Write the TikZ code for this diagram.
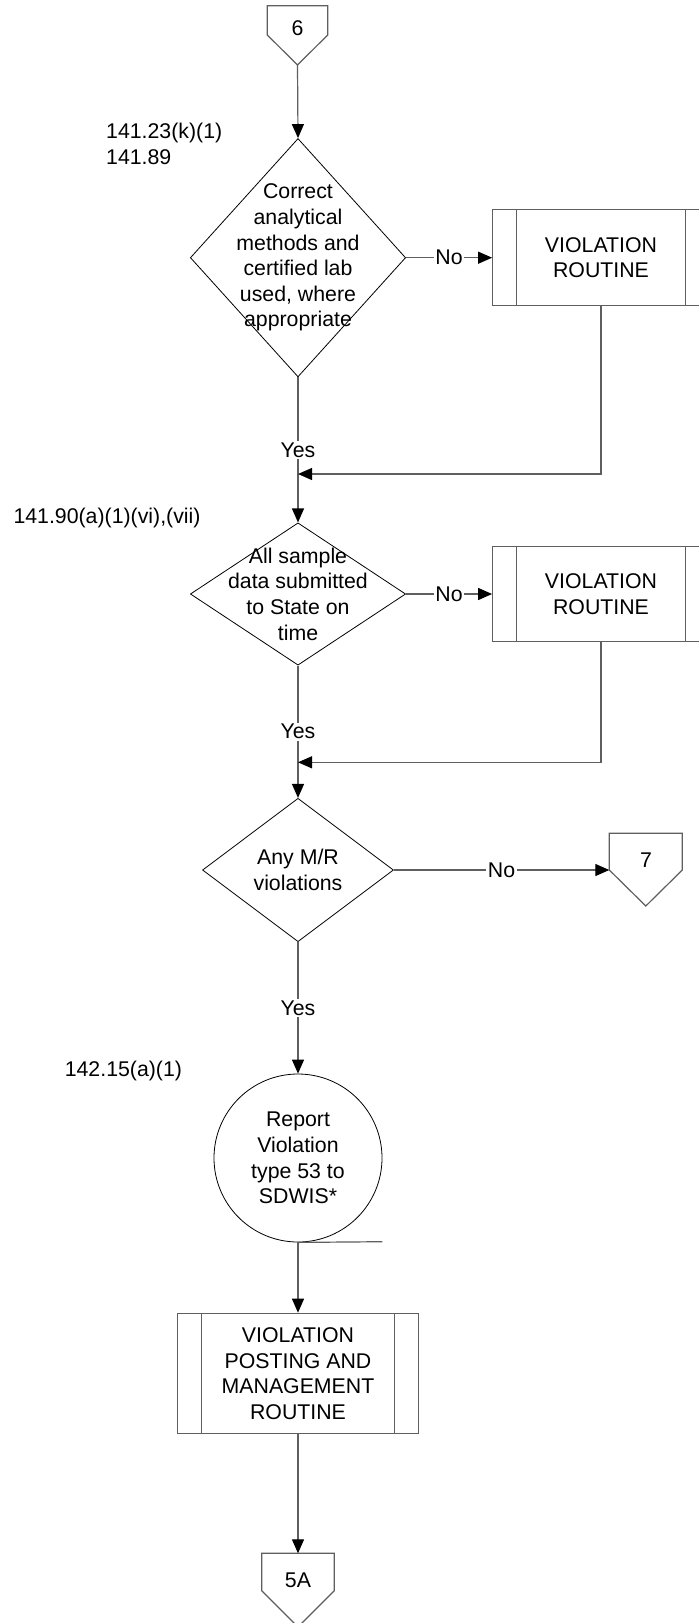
\documentclass[tikz,border=0pt]{standalone}
\usepackage{fontspec}
\setmainfont{Liberation Sans}
\usetikzlibrary{shapes.geometric, arrows.meta, positioning, calc}

\definecolor{linegray}{RGB}{95,95,95}

\tikzset{
  flowline/.style={draw=linegray, line width=1.2pt},
  flowarrow/.style={flowline, -{Triangle[length=14pt, width=12pt, color=black]}},
  decision/.style={diamond, draw=black, line width=0.8pt, inner sep=0pt},
  subproc/.style={rectangle, draw=linegray, line width=1.2pt, align=center, inner sep=0pt,
    path picture={
      \draw[linegray, line width=1.2pt]
        ([xshift=24pt]path picture bounding box.north west) -- ([xshift=24pt]path picture bounding box.south west)
        ([xshift=-24pt]path picture bounding box.north east) -- ([xshift=-24pt]path picture bounding box.south east);
    }},
  report/.style={circle, draw=black, line width=0.8pt, minimum size=168pt, inner sep=0pt, align=center},
  lbl/.style={fill=white, inner sep=1.5pt},
  ref/.style={anchor=west, inner sep=0pt, align=left}
}

\begin{document}
\begin{tikzpicture}[x=1pt, y=-1pt, font=\fontsize{21.3}{25.6}\selectfont]
  \useasboundingbox[fill=white] (0,0) rectangle (699,1623);

  % Off-page connector 6
  \draw[flowline] (267.3,5.7) -- (327.7,5.7) -- (327.7,35) -- (297.5,65) -- (267.3,35) -- cycle;
  \node (off6) at (297.5,28) {6};
  \coordinate (off6tip) at (297.5,65);

  % Lab check
  \node[ref] (ref1) at (106,143.9) {141.23(k)(1)\\141.89};
  \node[decision, minimum width=215.3pt, minimum height=238.4pt] (dec1) at (298,257.7) {};
  \node[align=center] (dec1txt) at (dec1) {Correct\\analytical\\methods and\\certified lab\\used, where\\appropriate};
  \node[subproc, minimum width=216.6pt, minimum height=95.7pt] (vr1) at (601,257.7) {VIOLATION\\ROUTINE};
  \coordinate (join1) at (298,474);

  % Submission check
  \node[ref] (ref2) at (13.3,518) {141.90(a)(1)(vi),(vii)};
  \node[decision, minimum width=215.3pt, minimum height=142.3pt] (dec2) at (298,594) {};
  \node[align=center] (dec2txt) at (dec2) {All sample\\data submitted\\to State on\\time};
  \node[subproc, minimum width=216.6pt, minimum height=95.7pt] (vr2) at (601,594) {VIOLATION\\ROUTINE};
  \coordinate (join2) at (298,762.3);

  % M/R check
  \node[decision, minimum width=191pt, minimum height=143.4pt] (dec3) at (298,870) {};
  \node[align=center] (dec3txt) at (dec3) {Any M/R\\violations};

  % Off-page connector 7
  \draw[flowline] (609.3,833.3) -- (682.3,833.3) -- (682.3,870) -- (645.8,906) -- (609.3,870) -- cycle;
  \node (off7) at (646,860) {7};
  \coordinate (off7in) at (609.3,870);

  % Report and posting
  \node[ref] (ref3) at (64.6,1070.7) {142.15(a)(1)};
  \node[report] (rpt) at (298,1158) {Report\\Violation\\type 53 to\\SDWIS*};
  \coordinate (rpttick) at (382.3,1241.7);
  \node[subproc, minimum width=240.3pt, minimum height=120.4pt] (vpm) at (298,1373.5) {VIOLATION\\POSTING AND\\MANAGEMENT\\ROUTINE};

  % Off-page connector 5A
  \draw[flowline] (261.7,1553.3) -- (334.3,1553.3) -- (334.3,1590.7) -- (298,1627) -- (261.7,1590.7) -- cycle;
  \node (off5a) at (298,1580) {5A};
  \coordinate (off5atop) at (298,1553.3);

  % Connectors
  \draw[flowarrow] (off6tip) -- (dec1.north);
  \draw[flowarrow] (dec1.east) -- node[lbl] {No} (vr1.west);
  \draw[flowarrow] (dec1.south) -- node[lbl] {Yes} (dec2.north);
  \draw[flowarrow] (vr1.south) |- (join1);
  \draw[flowarrow] (dec2.east) -- node[lbl] {No} (vr2.west);
  \draw[flowarrow] (dec2.south) -- node[lbl] {Yes} (dec3.north);
  \draw[flowarrow] (vr2.south) |- (join2);
  \draw[flowarrow] (dec3.east) -- node[lbl] {No} (off7in);
  \draw[flowarrow] (dec3.south) -- node[lbl] {Yes} (rpt.north);
  \draw[flowline] (rpt.south) -- (rpttick);
  \draw[flowarrow] (rpt.south) -- (vpm.north);
  \draw[flowarrow] (vpm.south) -- (off5atop);
\end{tikzpicture}
\end{document}
